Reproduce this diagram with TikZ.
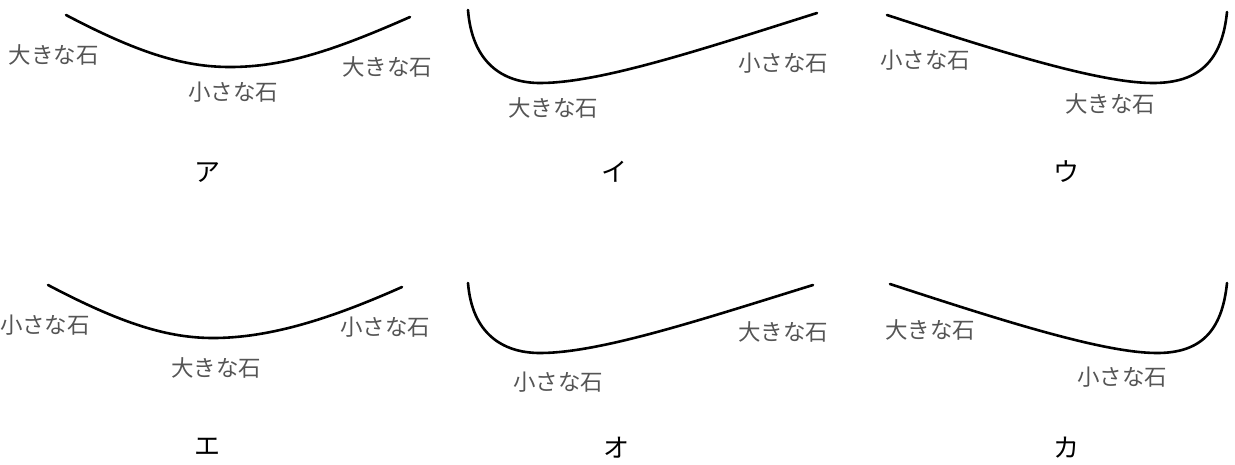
\documentclass[tikz,border=0pt]{standalone}
\usepackage{fontspec}
\setmainfont{Noto Sans CJK JP}
\definecolor{labgray}{RGB}{85,85,85}
\begin{document}
\begin{tikzpicture}[x=1pt,y=-1pt,
  curve/.style={line width=2.6pt,black,line cap=round},
  stone/.style={inner sep=0pt,text=labgray,font=\fontsize{22.5}{22.5}\selectfont},
  choice/.style={inner sep=0pt,text=black,font=\fontsize{26}{26}\selectfont}]
\useasboundingbox (0,0) rectangle (1235,464);
% ア
\coordinate (a1) at (66,15); \coordinate (a2) at (230,67); \coordinate (a3) at (410,17);
\draw[curve] (a1) .. controls (140,54) and (185,67) .. (a2) .. controls (285,67) and (335,50) .. (a3);
\node[stone] (aL) at (54,55) {大きな石};
\node[stone] (aM) at (233,92) {小さな石};
\node[stone] (aR) at (387,67) {大きな石};
\node[choice] (ka) at (207,173) {ア};
% イ
\coordinate (i1) at (468,10); \coordinate (i2) at (540,83); \coordinate (i3) at (817,13);
\draw[curve] (i1) .. controls (472,62) and (502,83) .. (i2) .. controls (600,83) and (700,50) .. (i3);
\node[stone] (iR) at (783,63) {小さな石};
\node[stone] (iM) at (553,108) {大きな石};
\node[choice] (ki) at (614,172) {イ};
% ウ
\coordinate (u1) at (887,15); \coordinate (u2) at (1153,83); \coordinate (u3) at (1227,12);
\draw[curve] (u1) .. controls (1000,52) and (1100,83) .. (u2) .. controls (1198,83) and (1222,62) .. (u3);
\node[stone] (uL) at (925,60) {小さな石};
\node[stone] (uM) at (1110,104) {大きな石};
\node[choice] (ku) at (1066,172) {ウ};
% エ
\coordinate (e1) at (48,285); \coordinate (e2) at (213,338); \coordinate (e3) at (402,287);
\draw[curve] (e1) .. controls (122,324) and (168,338) .. (e2) .. controls (268,338) and (328,320) .. (e3);
\node[stone] (eL) at (45,325) {小さな石};
\node[stone] (eR) at (385,327) {小さな石};
\node[stone] (eM) at (216,368) {大きな石};
\node[choice] (ke) at (207,447) {エ};
% オ
\coordinate (o1) at (468,283); \coordinate (o2) at (540,353); \coordinate (o3) at (813,285);
\draw[curve] (o1) .. controls (472,333) and (502,353) .. (o2) .. controls (600,353) and (700,320) .. (o3);
\node[stone] (oR) at (783,332) {大きな石};
\node[stone] (oM) at (558,382) {小さな石};
\node[choice] (ko) at (616,448) {オ};
% カ
\coordinate (k1) at (890,284); \coordinate (k2) at (1157,353); \coordinate (k3) at (1227,283);
\draw[curve] (k1) .. controls (1003,321) and (1104,353) .. (k2) .. controls (1200,353) and (1222,332) .. (k3);
\node[stone] (kL) at (930,330) {大きな石};
\node[stone] (kM) at (1122,377) {小さな石};
\node[choice] (kk) at (1066,448) {カ};
\end{tikzpicture}
\end{document}
